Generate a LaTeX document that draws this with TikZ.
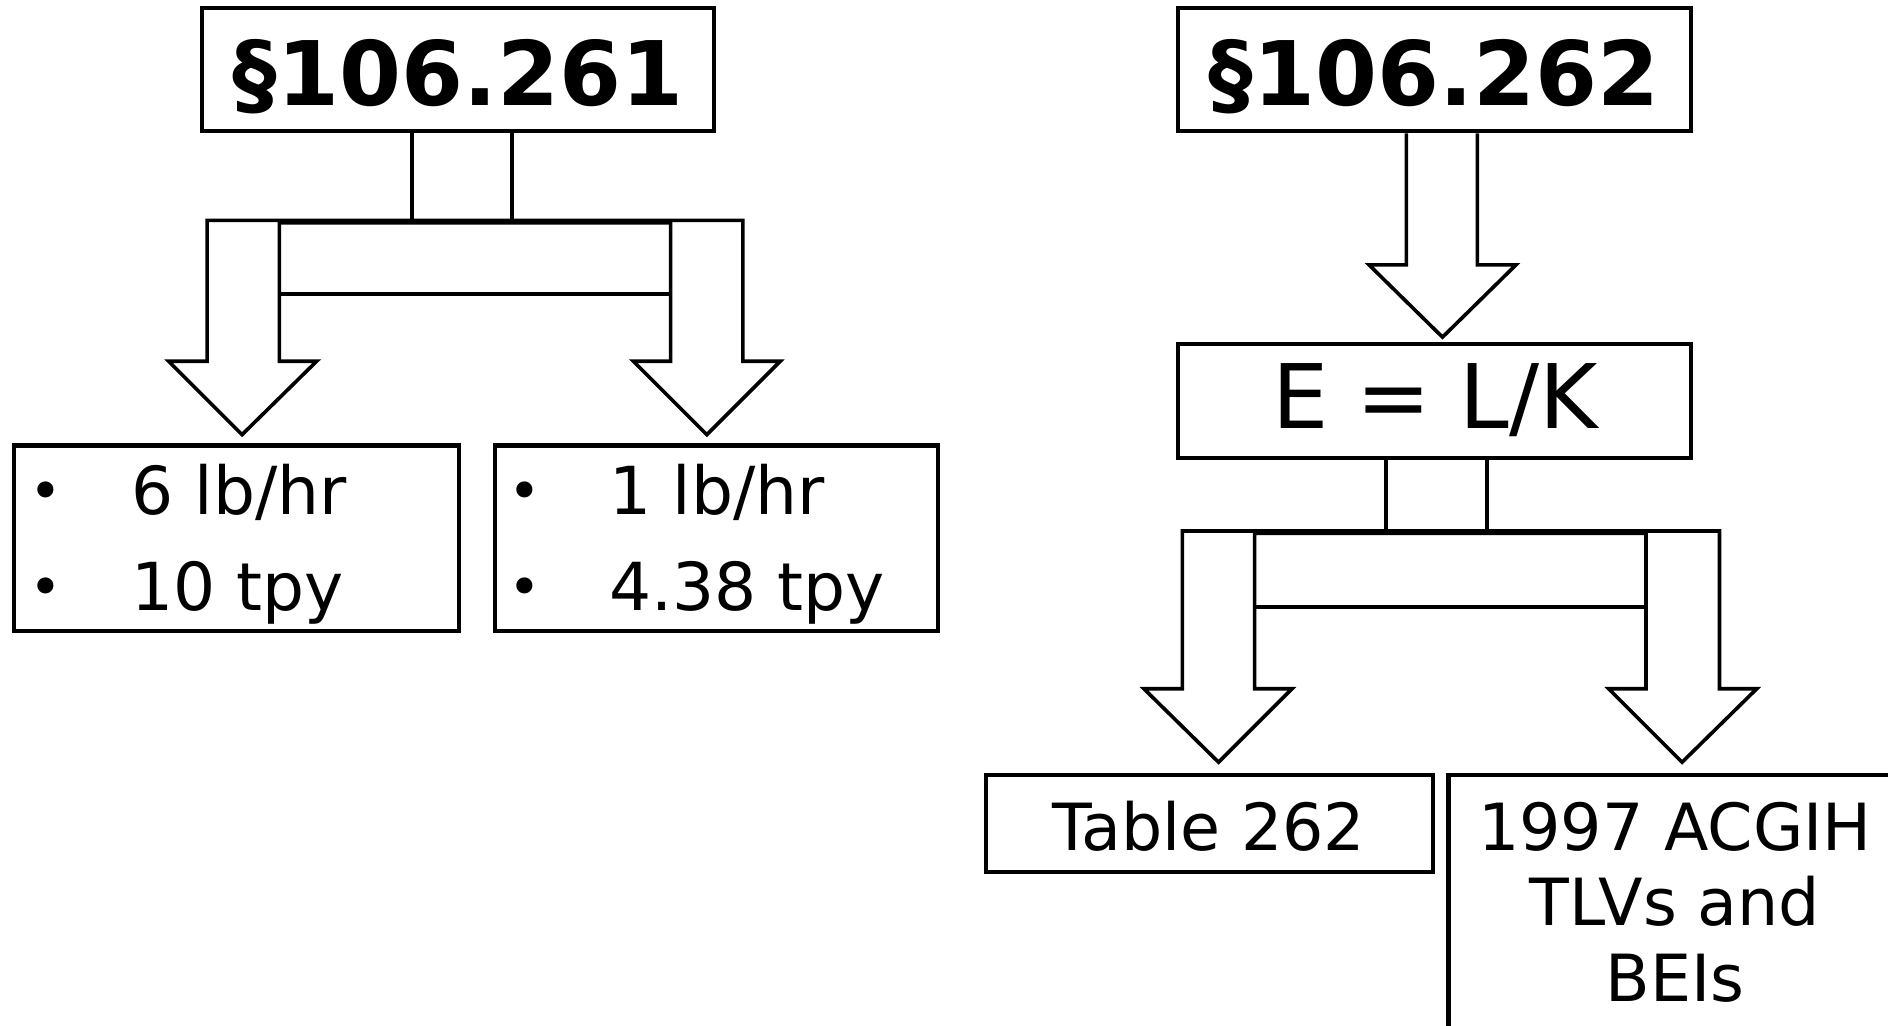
\documentclass[tikz,border=0pt]{standalone}
\usepackage{fontspec}
\setmainfont{DejaVu Sans}
\begin{document}
\tikzset{
  box/.style={draw, line width=3.4pt, rectangle, inner sep=0pt},
  blockarrow/.style={draw, line width=3pt, line join=miter},
  titletext/.style={font=\bfseries\fontsize{74}{80}\selectfont, inner sep=0pt, anchor=base},
  formtext/.style={font=\fontsize{74}{80}\selectfont, inner sep=0pt, anchor=base},
  bodytext/.style={font=\fontsize{54}{64}\selectfont, inner sep=0pt, anchor=base},
  bodyleft/.style={font=\fontsize{55}{64}\selectfont, inner sep=0pt, anchor=base west},
  bul/.style={font=\fontsize{46}{46}\selectfont, inner sep=0pt, anchor=center},
}
\begin{tikzpicture}[x=1pt,y=-1pt]
\useasboundingbox (0,0) rectangle (1568,852);
\fill[white] (0,0) rectangle (1568,852);

% boxes
\node[box, minimum width=425pt, minimum height=102pt] (s261) at (380.5,58) {};
\node[box, minimum width=369pt, minimum height=154pt] (lim6) at (196.5,447) {};
\node[box, minimum width=368pt, minimum height=154pt] (lim1) at (595,447) {};
\node[box, minimum width=426pt, minimum height=102pt] (s262) at (1191,58) {};
\node[box, minimum width=426pt, minimum height=94pt] (elk) at (1191,333) {};
\node[box, minimum width=371pt, minimum height=80pt] (tab) at (1004.5,684) {};
\node[box, minimum width=377pt, minimum height=212pt] (acgih) at (1391.5,750) {};

% texts
\node[titletext] (t261) at (380.5,88) {§106.261};
\node[titletext] (t262) at (1191,88) {§106.262};
\node[formtext] (telk) at (1192,356) {E = L/K};

\node[bul] (b61) at (38,412) {•};
\node[bul] (b62) at (38,492) {•};
\node[bodyleft] (t61) at (109,427) {6 lb/hr};
\node[bodyleft] (t62) at (109,507) {10 tpy};

\node[bul] (b11) at (436,412) {•};
\node[bul] (b12) at (436,492) {•};
\node[bodyleft] (t11) at (506,427) {1 lb/hr};
\node[bodyleft] (t12) at (506,507) {4.38 tpy};

\node[bodytext] (ttab) at (1004,706) {Table 262};
\node[bodytext] (ta1) at (1391,706) {1997 ACGIH};
\node[bodytext] (ta2) at (1391,769) {TLVs and};
\node[bodytext] (ta3) at (1391,832) {BEIs};

% left split block arrow
\draw[blockarrow] (s261.south -| 342,0) -- (342,183);
\draw[blockarrow] (s261.south -| 425,0) -- (425,183);
\draw[blockarrow] (232,185) -- (232,300) -- (263,300) -- (201,361) -- (140,300)
  -- (172,300) -- (172,183) -- (617,183) -- (617,300) -- (648,300) -- (587,361)
  -- (526,300) -- (557,300) -- (557,185) -- cycle;
\draw[blockarrow] (232,244) -- (557,244);

% right straight block arrow
\draw[blockarrow] (s262.south -| 1168,0) -- (1168,220) -- (1137,220) -- (1198,280)
  -- (1259,220) -- (1227,220) -- (s262.south -| 1227,0);

% right split block arrow
\draw[blockarrow] (elk.south -| 1151,0) -- (1151,441);
\draw[blockarrow] (elk.south -| 1235,0) -- (1235,441);
\draw[blockarrow] (1042,443) -- (1042,572) -- (1073,572) -- (1012,633) -- (950,572)
  -- (982,572) -- (982,441) -- (1428,441) -- (1428,572) -- (1459,572) -- (1397,633)
  -- (1336,572) -- (1367,572) -- (1367,443) -- cycle;
\draw[blockarrow] (1042,504) -- (1367,504);
\end{tikzpicture}
\end{document}
